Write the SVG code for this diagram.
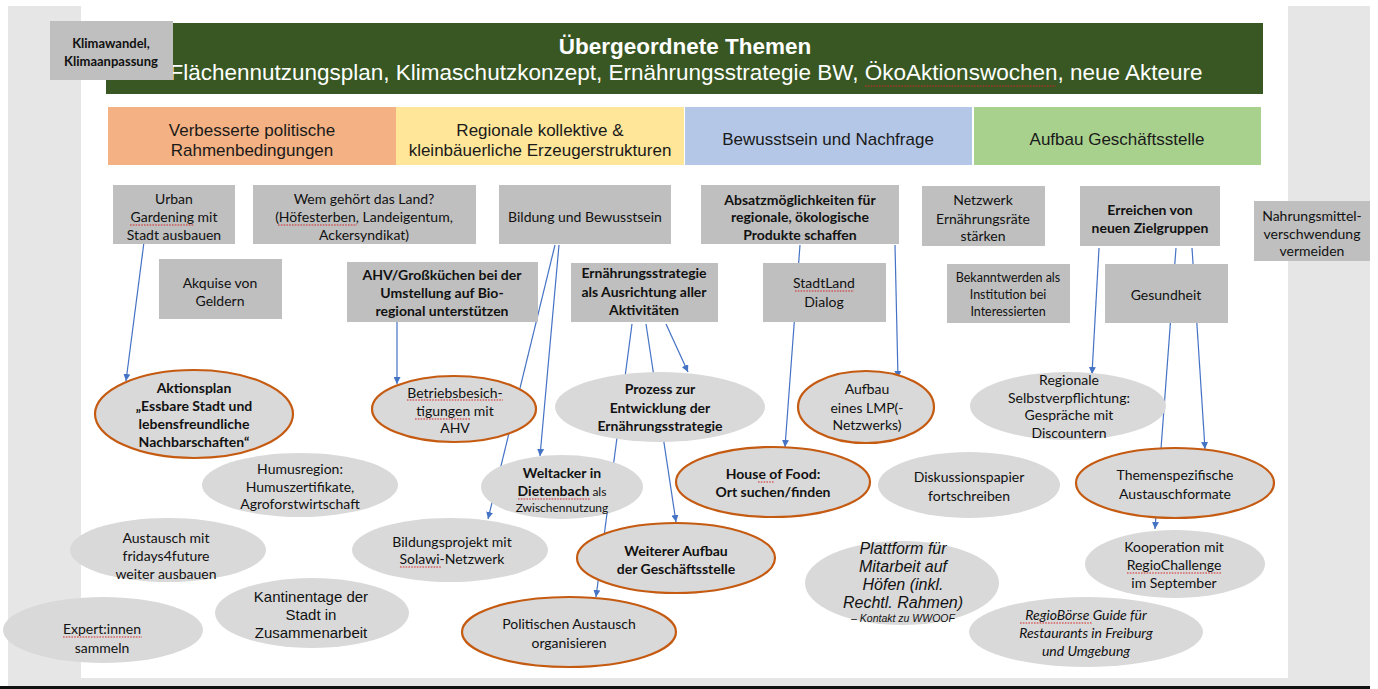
<svg xmlns="http://www.w3.org/2000/svg" width="1378" height="689" viewBox="0 0 1378 689">
<defs>
<style>
.c{font-family:Lato,"Liberation Sans",sans-serif;font-size:14px;fill:#111;text-anchor:middle}
.cs{font-family:Lato,"Liberation Sans",sans-serif;font-size:12.5px;fill:#111;text-anchor:middle}
.cb{font-family:Lato,"Liberation Sans",sans-serif;font-size:14px;font-weight:bold;fill:#111;text-anchor:middle}
.ci{font-family:Lato,"Liberation Sans",sans-serif;font-size:14px;font-style:italic;fill:#111;text-anchor:middle}
.a{font-family:"Liberation Sans",Arial,sans-serif;font-size:15px;fill:#111;text-anchor:middle}
.ai{font-family:"Liberation Sans",Arial,sans-serif;font-size:16px;font-style:italic;fill:#111;text-anchor:middle}
.cat{font-family:"Liberation Sans",Arial,sans-serif;font-size:17px;fill:#1a1a1a;text-anchor:middle}
.box{fill:#bfbfbf}
.ell{fill:#d9d9d9}
.ello{fill:#d9d9d9;stroke:#c55a11;stroke-width:2.2}
.con{fill:none;stroke:#4472c4;stroke-width:1.2;marker-end:url(#ah)}
.sp{fill:none;stroke:#d42a2a;stroke-width:1.1;stroke-dasharray:1.6 1.2}
</style>
<marker id="ah" viewBox="0 0 10 10" refX="10" refY="5" markerWidth="7" markerHeight="7" markerUnits="userSpaceOnUse" orient="auto">
<path d="M0,0 L10,5 L0,10 z" fill="#4472c4"/>
</marker>
</defs>

<!-- background / screen frame -->
<rect x="0" y="0" width="1378" height="689" fill="#ffffff"/>
<rect x="8" y="6" width="1362" height="680" fill="#e6e6e6"/>
<rect x="81" y="0" width="1207" height="678" fill="#ffffff"/>
<rect x="0" y="686" width="1370" height="3" fill="#111111"/>

<!-- title -->
<g id="title">
<rect x="106" y="23" width="1157" height="71" fill="#385723"/>
<text x="685" y="54" font-family="Liberation Sans, Arial, sans-serif" font-size="22.5" font-weight="bold" fill="#ffffff" text-anchor="middle">Übergeordnete Themen</text>
<text x="686" y="80" font-family="Liberation Sans, Arial, sans-serif" font-size="22.5" fill="#ffffff" text-anchor="middle">Flächennutzungsplan, Klimaschutzkonzept, Ernährungsstrategie BW, ÖkoAktionswochen, neue Akteure</text>
</g>
<g id="klimawandel">
<rect x="50" y="21" width="123" height="59" class="box"/>
<text class="cb" style="font-size:13px"><tspan x="111" y="48">Klimawandel,</tspan><tspan x="111" y="66">Klimaanpassung</tspan></text>
</g>

<!-- categories -->
<g id="cat1"><rect x="108" y="107" width="288" height="58" fill="#f4b183"/>
<text class="cat"><tspan x="252" y="136">Verbesserte politische</tspan><tspan x="252" y="156">Rahmenbedingungen</tspan></text></g>
<g id="cat2"><rect x="396" y="107" width="288" height="58" fill="#ffe699"/>
<text class="cat"><tspan x="540" y="136">Regionale kollektive &amp;</tspan><tspan x="540" y="156">kleinbäuerliche Erzeugerstrukturen</tspan></text></g>
<g id="cat3"><rect x="685" y="107" width="287" height="58" fill="#b4c7e7"/>
<text class="cat" x="828" y="145">Bewusstsein und Nachfrage</text></g>
<g id="cat4"><rect x="974" y="107" width="287" height="58" fill="#a9d18e"/>
<text class="cat" x="1117" y="145">Aufbau Geschäftsstelle</text></g>

<!-- connectors -->
<g id="connectors">
<path class="con" d="M144,242 L126,381"/>
<path class="con" d="M397,322 L397,384"/>
<path class="con" d="M555,245 L488,519"/>
<path class="con" d="M559,245 L540,456"/>
<path class="con" d="M632,324 L596,597"/>
<path class="con" d="M646,324 L676,522"/>
<path class="con" d="M666,324 L688,372"/>
<path class="con" d="M800,245 L785,447"/>
<path class="con" d="M895,245 L898,378"/>
<path class="con" d="M1099,248 L1092,374"/>
<path class="con" d="M1176,248 L1155,529"/>
<path class="con" d="M1192,248 L1205,449"/>
</g>

<!-- boxes -->
<g id="urban"><rect x="113" y="185" width="122" height="59" class="box"/>
<text class="c"><tspan x="174" y="204">Urban</tspan><tspan x="174" y="222">Gardening mit</tspan><tspan x="174" y="240">Stadt ausbauen</tspan></text></g>
<g id="land"><rect x="253" y="185" width="223" height="59" class="box"/>
<text class="c"><tspan x="364" y="204">Wem gehört das Land?</tspan><tspan x="364" y="222">(Höfesterben, Landeigentum,</tspan><tspan x="364" y="240">Ackersyndikat)</tspan></text></g>
<g id="akquise"><rect x="159" y="259" width="123" height="60" class="box"/>
<text class="c"><tspan x="220" y="288">Akquise von</tspan><tspan x="220" y="306">Geldern</tspan></text></g>
<g id="ahv"><rect x="347" y="262" width="191" height="60" class="box"/>
<text class="cb"><tspan x="442" y="280">AHV/Großküchen bei der</tspan><tspan x="442" y="298">Umstellung auf Bio-</tspan><tspan x="442" y="316">regional unterstützen</tspan></text></g>
<g id="bildung"><rect x="499" y="185" width="172" height="59" class="box"/>
<text class="c" x="585" y="222">Bildung und Bewusstsein</text></g>
<g id="strategie"><rect x="571" y="263" width="147" height="59" class="box"/>
<text class="cb"><tspan x="644" y="278">Ernährungsstrategie</tspan><tspan x="644" y="297">als Ausrichtung aller</tspan><tspan x="644" y="315">Aktivitäten</tspan></text></g>
<g id="absatz"><rect x="701" y="185" width="198" height="59" class="box"/>
<text class="cb"><tspan x="800" y="205">Absatzmöglichkeiten für</tspan><tspan x="800" y="222">regionale, ökologische</tspan><tspan x="800" y="240">Produkte schaffen</tspan></text></g>
<g id="stadtland"><rect x="763" y="263" width="123" height="59" class="box"/>
<text class="c"><tspan x="824" y="288">StadtLand</tspan><tspan x="824" y="307">Dialog</tspan></text></g>
<g id="netzwerk"><rect x="922" y="186" width="123" height="60" class="box"/>
<text class="c"><tspan x="983" y="205">Netzwerk</tspan><tspan x="983" y="224">Ernährungsräte</tspan><tspan x="983" y="241">stärken</tspan></text></g>
<g id="zielgruppen"><rect x="1080" y="186" width="140" height="60" class="box"/>
<text class="cb"><tspan x="1150" y="215">Erreichen von</tspan><tspan x="1150" y="233">neuen Zielgruppen</tspan></text></g>
<g id="bekannt"><rect x="947" y="264" width="123" height="59" class="box"/>
<text class="cs"><tspan x="1008" y="282">Bekanntwerden als</tspan><tspan x="1008" y="299">Institution bei</tspan><tspan x="1008" y="316">Interessierten</tspan></text></g>
<g id="gesundheit"><rect x="1105" y="264" width="123" height="59" class="box"/>
<text class="c" x="1166" y="300">Gesundheit</text></g>
<g id="nahrung"><rect x="1254" y="201" width="116" height="60" class="box"/>
<text class="c"><tspan x="1312" y="221">Nahrungsmittel-</tspan><tspan x="1312" y="239">verschwendung</tspan><tspan x="1312" y="256">vermeiden</tspan></text></g>

<!-- ellipses -->
<g id="aktionsplan"><ellipse cx="194" cy="414" rx="99" ry="44" class="ello"/>
<text class="cb"><tspan x="194" y="393">Aktionsplan</tspan><tspan x="194" y="411">„Essbare Stadt und</tspan><tspan x="194" y="429">lebensfreundliche</tspan><tspan x="194" y="447">Nachbarschaften“</tspan></text></g>
<g id="humus"><ellipse cx="300" cy="485" rx="98" ry="32" class="ell"/>
<text class="c"><tspan x="300" y="474">Humusregion:</tspan><tspan x="300" y="492">Humuszertifikate,</tspan><tspan x="300" y="509">Agroforstwirtschaft</tspan></text></g>
<g id="betrieb"><ellipse cx="454" cy="409" rx="82" ry="33" class="ello"/>
<text class="c"><tspan x="455" y="398">Betriebsbesich-</tspan><tspan x="455" y="416">tigungen mit</tspan><tspan x="455" y="433">AHV</tspan></text></g>
<g id="prozess"><ellipse cx="660" cy="407" rx="105" ry="35" class="ell"/>
<text class="cb"><tspan x="660" y="394">Prozess zur</tspan><tspan x="660" y="413">Entwicklung der</tspan><tspan x="660" y="431">Ernährungsstrategie</tspan></text></g>
<g id="lmp"><ellipse cx="866" cy="407" rx="68" ry="36" class="ello"/>
<text class="c"><tspan x="867" y="394">Aufbau</tspan><tspan x="867" y="413">eines LMP(-</tspan><tspan x="867" y="430">Netzwerks)</tspan></text></g>
<g id="weltacker"><ellipse cx="562" cy="487" rx="81" ry="32" class="ell"/>
<text class="cb"><tspan x="562" y="478">Weltacker in</tspan><tspan x="562" y="496">Dietenbach<tspan style="font-weight:normal;font-size:12px"> als</tspan></tspan></text>
<text class="cs" style="font-size:12px" x="562" y="512">Zwischennutzung</text></g>
<g id="houseoffood"><ellipse cx="773" cy="482" rx="97" ry="35" class="ello"/>
<text class="cb"><tspan x="773" y="479">House of Food:</tspan><tspan x="773" y="497">Ort suchen/finden</tspan></text></g>
<g id="diskussion"><ellipse cx="969" cy="485" rx="91" ry="33" class="ell"/>
<text class="c"><tspan x="969" y="482">Diskussionspapier</tspan><tspan x="969" y="501">fortschreiben</tspan></text></g>
<g id="selbstverpflichtung"><ellipse cx="1068" cy="406" rx="98" ry="34" class="ell"/>
<text class="c"><tspan x="1069" y="385">Regionale</tspan><tspan x="1069" y="403">Selbstverpflichtung:</tspan><tspan x="1069" y="420">Gespräche mit</tspan><tspan x="1069" y="438">Discountern</tspan></text></g>
<g id="themen"><ellipse cx="1175" cy="483" rx="99" ry="35" class="ello"/>
<text class="c"><tspan x="1175" y="480">Themenspezifische</tspan><tspan x="1175" y="499">Austauschformate</tspan></text></g>
<g id="fridays"><ellipse cx="168" cy="550" rx="98" ry="32" class="ell"/>
<text class="c"><tspan x="166" y="543">Austausch mit</tspan><tspan x="166" y="561">fridays4future</tspan><tspan x="166" y="579">weiter ausbauen</tspan></text></g>
<g id="expert"><ellipse cx="103" cy="630" rx="100" ry="33" class="ell"/>
<text class="c"><tspan x="102" y="634">Expert:innen</tspan><tspan x="102" y="653">sammeln</tspan></text></g>
<g id="kantine"><ellipse cx="312" cy="613" rx="97" ry="35" class="ell"/>
<text class="a"><tspan x="311" y="602">Kantinentage der</tspan><tspan x="311" y="620">Stadt in</tspan><tspan x="311" y="638">Zusammenarbeit</tspan></text></g>
<g id="bildungsprojekt"><ellipse cx="450" cy="550" rx="98" ry="32" class="ell"/>
<text class="c"><tspan x="452" y="547">Bildungsprojekt mit</tspan><tspan x="452" y="564">Solawi-Netzwerk</tspan></text></g>
<g id="weiterer"><ellipse cx="676" cy="558" rx="99" ry="35" class="ello"/>
<text class="cb"><tspan x="676" y="556">Weiterer Aufbau</tspan><tspan x="676" y="574">der Geschäftsstelle</tspan></text></g>
<g id="politisch"><ellipse cx="569" cy="632" rx="107" ry="35" class="ello"/>
<text class="c"><tspan x="569" y="629">Politischen Austausch</tspan><tspan x="569" y="648">organisieren</tspan></text></g>
<g id="plattform"><ellipse cx="902" cy="583" rx="97" ry="42" class="ell"/>
<text class="ai"><tspan x="903" y="554">Plattform für</tspan><tspan x="903" y="572">Mitarbeit auf</tspan><tspan x="903" y="590">Höfen (inkl.</tspan><tspan x="903" y="608">Rechtl. Rahmen)</tspan></text>
<text class="ai" style="font-size:10.5px" x="903" y="622">– Kontakt zu WWOOF</text></g>
<g id="regiochallenge"><ellipse cx="1175" cy="564" rx="90" ry="34" class="ell"/>
<text class="c"><tspan x="1174" y="552">Kooperation mit</tspan><tspan x="1174" y="570">RegioChallenge</tspan><tspan x="1174" y="588">im September</tspan></text></g>
<g id="regioboerse"><ellipse cx="1086" cy="632" rx="117" ry="35" class="ell"/>
<text class="ci"><tspan x="1086" y="620">RegioBörse Guide für</tspan><tspan x="1086" y="638">Restaurants in Freiburg</tspan><tspan x="1086" y="656">und Umgebung</tspan></text></g>

<!-- spell-check underlines as shown in the screenshot -->
<g id="spellmarks">
<path class="sp" d="M865,86 H1056"/>
<path class="sp" d="M130,225 H194"/>
<path class="sp" d="M278,225 H357"/>
<path class="sp" d="M795,291 H854"/>
<path class="sp" d="M407,400 H503"/>
<path class="sp" d="M415,419 H470"/>
<path class="sp" d="M518,499 H590"/>
<path class="sp" d="M758,482 H774"/>
<path class="sp" d="M63,637 H142"/>
<path class="sp" d="M400,567 H442"/>
<path class="sp" d="M1127,573 H1222"/>
<path class="sp" d="M1020,623 H1092"/>
</g>
</svg>
